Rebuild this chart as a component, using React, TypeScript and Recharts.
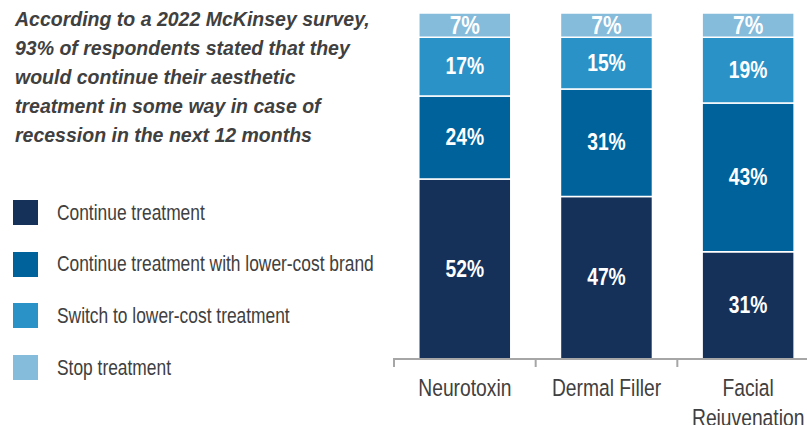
import React from 'react';
import { BarChart, Bar, XAxis, YAxis, LabelList, Legend } from 'recharts';

const categories = ['Neurotoxin', 'Dermal Filler', 'Facial Rejuvenation'];
const continueTreatment = [52, 47, 31];
const lowerCostBrand = [24, 31, 43];
const switchTreatment = [17, 15, 19];
const stopTreatment = [7, 7, 7];
const seriesKeys = ['continueTreatment', 'lowerCostBrand', 'switchTreatment', 'stopTreatment'];
const seriesNames = [
  'Continue treatment',
  'Continue treatment with lower-cost brand',
  'Switch to lower-cost treatment',
  'Stop treatment',
];
const seriesColors = ['#15315A', '#00629B', '#2B92C7', '#85BBDB'];
const titleLines = [
  'According to a 2022 McKinsey survey,',
  '93% of respondents stated that they',
  'would continue their aesthetic',
  'treatment in some way in case of',
  'recession in the next 12 months',
];

const data = categories.map((category, i) => ({
  category,
  continueTreatment: continueTreatment[i],
  lowerCostBrand: lowerCostBrand[i],
  switchTreatment: switchTreatment[i],
  stopTreatment: stopTreatment[i],
}));

const FONT = "'Liberation Sans', Arial, sans-serif";
const NARROW_SCALE = 0.82;
const TEXT_COLOR = '#404040';
const AXIS_FONT_SIZE = 23.5;

let measureCtx: CanvasRenderingContext2D | null = null;
const measure = (s: string, fontSize: number) => {
  if (typeof document === 'undefined') return s.length * fontSize * 0.5;
  if (!measureCtx) measureCtx = document.createElement('canvas').getContext('2d');
  if (!measureCtx) return s.length * fontSize * 0.5;
  measureCtx.font = `${fontSize}px ${FONT}`;
  return measureCtx.measureText(s).width;
};

const wrapWords = (label: string, maxWidth: number, fontSize: number) => {
  const words = String(label).split(' ');
  const lines: string[] = [];
  let cur = '';
  words.forEach((w) => {
    const next = cur ? `${cur} ${w}` : w;
    if (cur && measure(next, fontSize) * NARROW_SCALE > maxWidth) {
      lines.push(cur);
      cur = w;
    } else {
      cur = next;
    }
  });
  if (cur) lines.push(cur);
  return lines;
};

const CategoryTick = (props: any) => {
  const { x, y, payload, width, visibleTicksCount } = props;
  const band = width && visibleTicksCount ? width / visibleTicksCount : 140;
  const lines = wrapWords(payload.value, band - 12, AXIS_FONT_SIZE);
  return (
    <g>
      <line x1={x - band / 2} x2={x - band / 2} y1={y - 1} y2={y + 8} stroke="#A6A6A6" strokeWidth={2} />
      <g transform={`translate(${x},${y + 37}) scale(${NARROW_SCALE},1)`}>
        <text
          x={0}
          y={0}
          textAnchor="middle"
          fill={TEXT_COLOR}
          style={{ fontFamily: FONT, fontSize: AXIS_FONT_SIZE }}
        >
          {lines.map((l, i) => (
            <tspan key={l} x={0} dy={i === 0 ? 0 : 30}>
              {l}
            </tspan>
          ))}
        </text>
      </g>
    </g>
  );
};

const makeLabel = (big: boolean) => (props: any) => {
  const { x, y, width, height, value } = props;
  const cx = Number(x) + Number(width) / 2;
  const cy = Number(y) + Number(height) / 2;
  return (
    <g transform={`translate(${cx},${cy}) scale(${NARROW_SCALE},1)`}>
      <text
        x={0}
        y={0}
        textAnchor="middle"
        dominantBaseline="central"
        fill="#FFFFFF"
        style={{ fontFamily: FONT, fontWeight: 'bold', fontSize: big ? 25.5 : 23.5 }}
      >
        {`${value}%`}
      </text>
    </g>
  );
};

const LegendContent = (props: any) => {
  const payload = [...(props.payload || [])].sort(
    (a: any, b: any) => seriesNames.indexOf(a.value) - seriesNames.indexOf(b.value)
  );
  return (
    <div style={{ position: 'relative' }}>
      {payload.map((entry: any, i: number) => (
        <div
          key={entry.value}
          style={{ display: 'flex', alignItems: 'center', height: 25, marginBottom: i < 3 ? 26.7 : 0 }}
        >
          <div style={{ width: 25, height: 25, background: entry.color, marginLeft: 13, flex: 'none' }} />
          <span
            style={{
              marginLeft: 19,
              fontFamily: FONT,
              fontSize: 21.2,
              color: TEXT_COLOR,
              whiteSpace: 'nowrap',
              display: 'inline-block',
              transform: `scaleX(${NARROW_SCALE})`,
              transformOrigin: 'left center',
            }}
          >
            {entry.value}
          </span>
        </div>
      ))}
    </div>
  );
};

export default function App() {
  return (
    <div
      style={{
        position: 'absolute',
        left: 0,
        top: 0,
        width: 807,
        height: 425,
        overflow: 'hidden',
        background: '#fff',
      }}
    >
      <div
        style={{
          position: 'absolute',
          left: 15,
          top: 5,
          fontFamily: FONT,
          fontWeight: 'bold',
          fontStyle: 'italic',
          fontSize: 19.5,
          lineHeight: '29px',
          color: TEXT_COLOR,
          whiteSpace: 'nowrap',
          zIndex: 2,
        }}
      >
        {titleLines.map((l) => (
          <div key={l}>{l}</div>
        ))}
      </div>
      <BarChart
        width={830}
        height={425}
        data={data}
        margin={{ top: 13, right: 11, bottom: 0, left: 394 }}
        barCategoryGap="17.5%"
      >
        <XAxis
          dataKey="category"
          height={66}
          axisLine={{ stroke: '#A6A6A6', strokeWidth: 2 }}
          tickLine={false}
          tickSize={0}
          tickMargin={0}
          interval={0}
          tick={<CategoryTick />}
        />
        <YAxis hide domain={[0, 100]} />
        <Legend
          layout="vertical"
          align="center"
          verticalAlign="middle"
          wrapperStyle={{ left: 0, top: 200, width: 390, height: 180 }}
          content={<LegendContent />}
        />
        {seriesKeys.map((key, i) => (
          <Bar
            key={key}
            dataKey={key}
            name={seriesNames[i]}
            stackId="a"
            fill={seriesColors[i]}
            stroke="#FFFFFF"
            strokeWidth={1.5}
            isAnimationActive={false}
          >
            <LabelList dataKey={key} content={makeLabel(i === 3)} />
          </Bar>
        ))}
      </BarChart>
    </div>
  );
}
